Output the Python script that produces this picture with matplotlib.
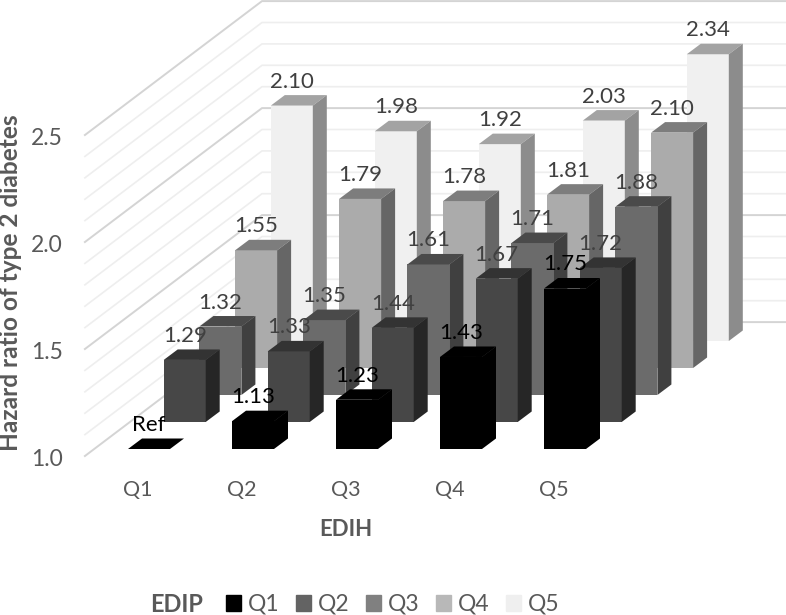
import matplotlib
matplotlib.use('Agg')
import matplotlib.pyplot as plt
from matplotlib.patches import Patch

plt.rcParams['font.family'] = ['Lato', 'DejaVu Sans']

edih = ['Q1', 'Q2', 'Q3', 'Q4', 'Q5']
edip = ['Q1', 'Q2', 'Q3', 'Q4', 'Q5']

# one list per EDIP quintile, Q1 of EDIH is the reference
edip_q1 = [1.00, 1.13, 1.23, 1.43, 1.75]
edip_q2 = [1.29, 1.33, 1.44, 1.67, 1.72]
edip_q3 = [1.32, 1.35, 1.61, 1.71, 1.88]
edip_q4 = [1.55, 1.79, 1.78, 1.81, 2.10]
edip_q5 = [2.10, 1.98, 1.92, 2.03, 2.34]
series = [edip_q1, edip_q2, edip_q3, edip_q4, edip_q5]

yticks = [1.0, 1.5, 2.0, 2.5]
gridvals = [1.0 + 0.1*i for i in range(16)]

front = ['#000000', '#474747', '#6b6b6b', '#ababab', '#f0f0f0']
top = ['#000000', '#333333', '#4a4a4a', '#7d7d7d', '#a3a3a3']
side = ['#000000', '#262626', '#404040', '#666666', '#8c8c8c']
legcol = ['#000000', '#636363', '#808080', '#b8b8b8', '#efefef']

# oblique projection to pixel coords
def proj(c, s, v):
    x = 128 + 104*c + 35.7*s
    y = 449 - 27*s - 214*(v - 1)
    return x, y

bw = 42
dx = 14
dy = 10.5

fig = plt.figure(figsize=(7.86, 6.15), dpi=100)
ax = fig.add_axes([0, 0, 1, 1])
ax.set_xlim(0, 786)
ax.set_ylim(615, 0)
ax.axis('off')

# walls
for v in gridvals:
    major = abs(v*2 - round(v*2)) < 1e-6
    col = '#d4d4d4' if major else '#eeeeee'
    p = [proj(-0.325, -0.26, v), proj(-0.325, 4.7, v), proj(4.71, 4.7, v)]
    ax.plot([q[0] for q in p], [q[1] for q in p], color=col, lw=1.4 if major else 1.2, zorder=1)

# back row first so the front rows cover it
for s in range(4, -1, -1):
    for c in range(5):
        x, y0 = proj(c, s, 1.0)
        _, y1 = proj(c, s, series[s][c])
        ax.fill([x, x+bw, x+bw, x], [y0, y0, y1, y1], color=front[s], lw=0, zorder=2)
        ax.fill([x, x+bw, x+bw+dx, x+dx], [y1, y1, y1-dy, y1-dy], color=top[s], lw=0, zorder=2)
        ax.fill([x+bw, x+bw+dx, x+bw+dx, x+bw], [y0, y0-dy, y1-dy, y1], color=side[s], lw=0, zorder=2)

for s in range(5):
    for c in range(5):
        x, y1 = proj(c, s, series[s][c])
        lab = 'Ref' if s == 0 and c == 0 else '%.2f' % series[s][c]
        ax.text(x + bw/2, y1 - 24, lab, ha='center', va='center', fontsize=16,
                color='#000000' if s == 0 else '#404040', zorder=3)

for v in yticks:
    _, y = proj(0, -0.26, v)
    ax.text(63, y + 3, '%.1f' % v, ha='right', va='center', fontsize=16.5, color='#595959')

for c in range(5):
    x, _ = proj(c, 0, 1.0)
    ax.text(x + 10, 490, edih[c], ha='center', va='center', fontsize=15.5, color='#595959')

ax.text(346, 529, 'EDIH', ha='center', va='center', fontsize=16, fontweight='bold', color='#595959')
ax.text(11, 283, 'Hazard ratio of type 2 diabetes', rotation=90, ha='center', va='center',
        fontsize=17.6, fontweight='bold', color='#595959')
ax.text(177, 605, 'EDIP', ha='center', va='center', fontsize=17, fontweight='bold', color='#595959')

handles = [Patch(color=legcol[i], label=edip[i]) for i in range(5)]
ax.legend(handles=handles, ncol=5, frameon=False, loc='center left', bbox_to_anchor=(226, 604.5),
          bbox_transform=ax.transData, fontsize=16.5, handlelength=0.655, handleheight=0.655,
          handletextpad=0.3, columnspacing=0.72, labelcolor='#595959', borderaxespad=0, borderpad=0)

fig.savefig('out.png', dpi=100)
